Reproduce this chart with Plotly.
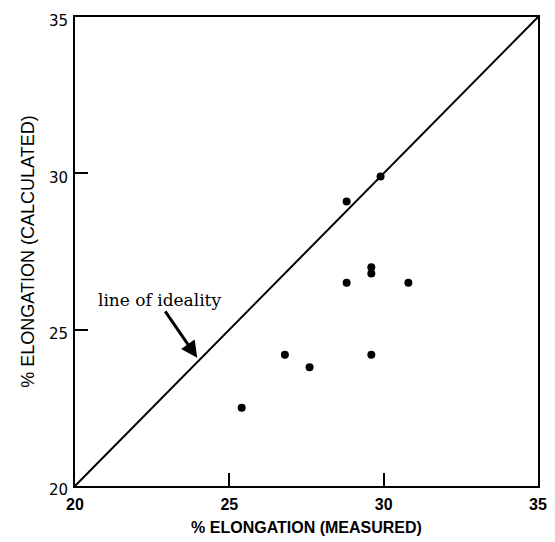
import plotly.graph_objects as go

# Data
measured = [29.9, 28.8, 29.6, 29.6, 28.8, 30.8, 26.8, 27.6, 29.6, 25.4]
calculated = [29.9, 29.1, 27.0, 26.8, 26.5, 26.5, 24.2, 23.8, 24.2, 22.5]
ideal_x = [20, 35]
ideal_y = [20, 35]
tick_vals = [20, 25, 30, 35]
tick_text = ["20", "25", "30", "35"]

fig = go.Figure()
fig.add_trace(go.Scatter(x=ideal_x, y=ideal_y, mode="lines",
                         line=dict(color="black", width=2), showlegend=False,
                         hoverinfo="skip"))
fig.add_trace(go.Scatter(x=measured, y=calculated, mode="markers",
                         marker=dict(color="black", size=8), showlegend=False))

fig.add_annotation(x=22.73, y=25.95, xref="x", yref="y", text="line of ideality",
                   showarrow=False, font=dict(family="DejaVu Serif", size=17, color="black"))
fig.add_annotation(x=23.96, y=24.1, ax=22.89, ay=25.63, xref="x", yref="y",
                   axref="x", ayref="y", text="", showarrow=True,
                   arrowhead=2, arrowsize=1.1, arrowwidth=3, arrowcolor="black")

axis_common = dict(range=[20, 35], tickvals=tick_vals, ticktext=tick_text,
                   showline=True, mirror=True, linecolor="black", linewidth=2,
                   ticks="inside", ticklen=13, tickwidth=1.5, tickcolor="black",
                   showgrid=False, zeroline=False, ticklabeloverflow="allow")

fig.update_layout(
    width=547, height=534,
    margin=dict(l=67, r=17, t=9, b=56, autoexpand=False),
    plot_bgcolor="white", paper_bgcolor="white",
    xaxis=dict(**axis_common,
               tickfont=dict(family="Liberation Sans", size=16, color="black", weight="bold"),
               ticklabelstandoff=3,
               title=dict(text="% ELONGATION (MEASURED)", standoff=10,
                          font=dict(family="Liberation Sans", size=16, color="black", weight="bold"))),
    yaxis=dict(**axis_common,
               tickfont=dict(family="DejaVu Sans", size=15, color="black"),
               ticklabelstandoff=2, ticklabelshift=4,
               title=dict(text="% ELONGATION (CALCULATED)", standoff=10,
                          font=dict(family="Liberation Sans", size=18, color="black"))),
)

fig.write_html("out.html")
